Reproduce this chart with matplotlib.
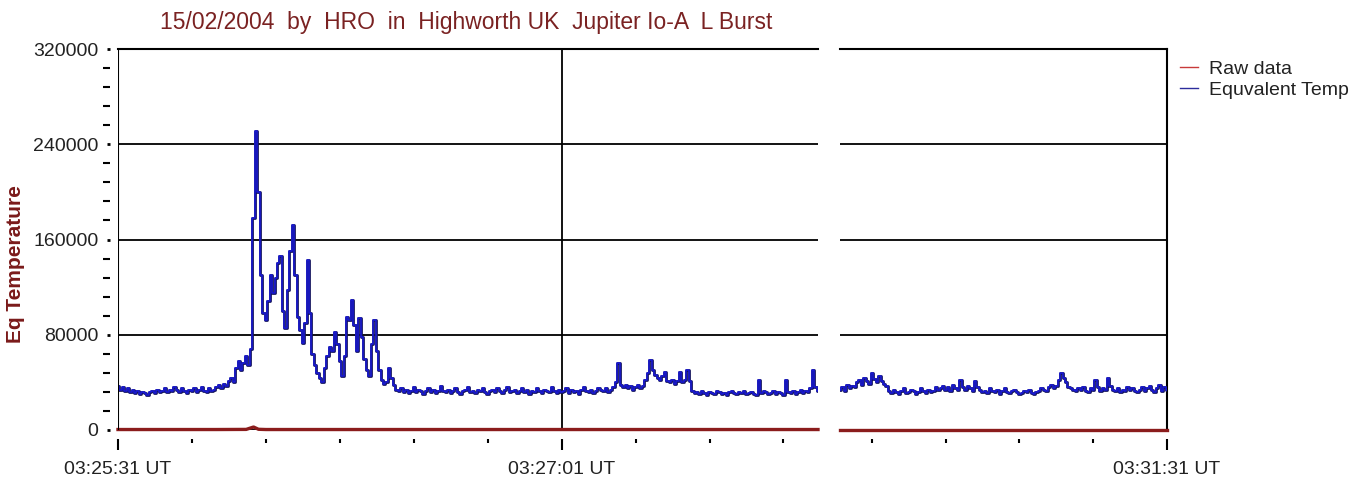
import numpy as np
import matplotlib.pyplot as plt
from matplotlib.lines import Line2D
from matplotlib.ticker import FixedLocator, MultipleLocator

plt.rcParams['font.family'] = ['Liberation Sans', 'DejaVu Sans']

title = "15/02/2004  by  HRO  in  Highworth UK  Jupiter Io-A  L Burst"
ylabel = "Eq Temperature"
series_names = ["Raw data", "Equvalent Temp"]

# time axis: seconds after 03:25:31 UT, data gap between the two panels
start_clock = (3, 25, 31)
step = 0.5
left_start = 0.0
right_start = 293.5
left_range = (0, 142)
right_range = (293.5, 360)

# equivalent temperature, thousands, one value every 0.5 s
temp_left_k = [
    37, 34, 36, 33, 35, 32, 34, 31, 33, 30, 32, 31, 29, 32, 33, 31, 34, 32, 33, 35,
    32, 34, 33, 36, 34, 32, 35, 33, 31, 34, 33, 35, 32, 34, 36, 33, 32, 35, 33, 34,
    36, 38, 35, 39, 37, 41, 44, 40,
    52, 58, 50, 56, 62, 55, 68,
    178, 251, 200, 130, 98, 92, 108, 130, 115, 128, 140, 146, 100, 86, 118,
    150, 172, 130, 95, 84, 73, 90, 143, 98, 64, 55, 48, 44, 40, 52,
    62, 70, 66, 82, 72, 58, 45, 62, 95, 92, 109, 88, 66, 94, 78,
    60, 50, 45, 72, 92, 66, 50, 42, 39, 40, 52, 44, 38, 34,
    33, 35, 32, 34, 31, 33, 36, 32, 34, 33, 30, 33, 35, 32, 34, 31, 33, 37, 33, 32,
    34, 31, 33, 35, 32, 30, 33, 34, 36, 32, 33, 31, 34, 33, 35, 32, 30, 33, 34, 32,
    35, 33, 31, 34, 36, 32, 33, 34, 31, 33, 35, 32, 34, 30, 33, 32, 35, 33, 31, 34,
    33, 32, 36, 33, 31, 34, 32, 33, 35, 31, 34, 32, 33, 30, 34, 36, 33, 32, 34, 31,
    33, 35,
    34, 33, 35, 32, 34, 36, 40, 56, 38, 36, 38, 35, 37, 34, 36, 38, 35, 37, 42, 48,
    59, 50, 46, 44, 42, 45, 49, 41, 40, 42, 39, 41, 49, 40, 42, 50, 41, 33,
    31, 32, 30, 33, 31, 29, 32, 31, 30, 33, 32, 30, 31, 29, 32, 33, 31, 30, 32, 31,
    33, 30, 31, 32, 30, 29, 42, 31, 33, 32, 30, 31, 33, 30, 32, 31, 29, 42, 32, 31,
    33, 30, 32, 34, 31, 33, 32, 35, 50, 36, 33,
]
temp_right_k = [
    34, 36, 33, 38, 35, 37, 36,
    40, 42, 38, 44, 41, 39, 48, 43, 40, 45, 41, 39, 37,
    33, 31, 34, 32, 30, 33, 35, 31, 32, 34, 33, 30, 32, 35, 33, 31, 34, 32, 33, 36, 34,
    35, 37, 34, 36, 33, 38, 35, 34, 42, 36, 34, 37, 35, 33, 41, 36,
    34, 32, 33, 31, 35, 33, 32, 34, 30, 33, 35, 32, 31, 33, 34, 32, 30, 31, 33, 32,
    34, 31, 30, 32, 33, 35, 34, 33, 36, 38, 35, 37,
    42, 48, 44, 40, 36, 35, 34,
    33, 35, 34, 36, 33, 32, 35, 34, 42, 36, 33, 35, 34, 44, 37, 34, 33, 35, 32, 34,
    33, 36, 34, 35, 33, 32, 34, 36, 33, 35, 37, 34, 32, 35, 38, 33, 36, 34,
]

# raw receiver data (thousands) stays near zero on this scale
raw_left_t = [0, 20, 26, 27.5, 28.5, 30, 60, 142]
raw_left_k = [0.4, 0.4, 0.5, 2.5, 0.6, 0.4, 0.4, 0.4]
raw_right_t = [293.5, 360]
raw_right_k = [0.4, 0.4]

y_ticks = [0, 80000, 160000, 240000, 320000]
left_major = [0, 90]
left_minor = [15, 30, 45, 60, 75, 105, 120, 135]
right_major = [360]
right_minor = [300, 315, 330, 345]

temp_left = np.array(temp_left_k) * 1000
temp_right = np.array(temp_right_k) * 1000
t_left = left_start + step * np.arange(len(temp_left))
t_right = right_start + step * np.arange(len(temp_right))


def clock(sec):
    h, m, s = start_clock
    total = h * 3600 + m * 60 + s + int(round(sec))
    return f"{total // 3600:02d}:{total % 3600 // 60:02d}:{total % 60:02d} UT"


blue = "#1a1ad8"
blue_edge = "#14145e"
raw_col = "#8b1c1c"
text_col = "#222222"

fig = plt.figure(figsize=(13.56, 4.82), dpi=100)
ax1 = fig.add_axes([118 / 1356, 52 / 482, 700 / 1356, 381 / 482])
ax2 = fig.add_axes([840 / 1356, 52 / 482, 327 / 1356, 381 / 482], sharey=ax1)

for ax, t, temp, rt, rk, xr in [(ax1, t_left, temp_left, raw_left_t, raw_left_k, left_range),
                                 (ax2, t_right, temp_right, raw_right_t, raw_right_k, right_range)]:
    ax.grid(axis='y', color='black', lw=1.3)
    ax.set_axisbelow(True)
    ax.plot(t, temp, color=blue_edge, lw=2.0, drawstyle='steps-mid', zorder=3)
    ax.plot(t, temp, color=blue, lw=1.1, drawstyle='steps-mid', zorder=3)
    ax.plot(rt, np.array(rk) * 1000, color=raw_col, lw=2.4, zorder=4, clip_on=False)
    ax.set_xlim(*xr)
    ax.spines['top'].set_linewidth(1.5)
    ax.spines['bottom'].set_position(('outward', 6.5))
    ax.spines['bottom'].set_visible(False)
    ax.tick_params(axis='x', which='major', length=8, width=1.5, pad=8,
                   labelsize=14, labelcolor=text_col)
    ax.tick_params(axis='x', which='minor', length=3, width=1.5)

ax1.set_ylim(0, 320000)
ax1.yaxis.set_major_locator(FixedLocator(y_ticks))
ax1.yaxis.set_minor_locator(MultipleLocator(16000))
ax1.set_yticklabels([str(v) for v in y_ticks])
ax1.spines['left'].set_position(('outward', 6))
ax1.spines['left'].set_visible(False)
ax1.spines['right'].set_visible(False)
ax1.axvline(left_range[0], color='black', lw=1.5, zorder=5)
ax1.axvline(90, color='black', lw=1.3, zorder=2)
ax1.tick_params(axis='y', which='major', length=2, width=2, pad=6,
                labelsize=14, labelcolor=text_col)
ax1.tick_params(axis='y', which='minor', length=5, width=1.5)
ax1.xaxis.set_major_locator(FixedLocator(left_major))
ax1.xaxis.set_minor_locator(FixedLocator(left_minor))
ax1.set_xticklabels([clock(v) for v in left_major])

ax2.spines['left'].set_visible(False)
ax2.spines['right'].set_linewidth(1.5)
ax2.tick_params(axis='y', which='both', left=False, labelleft=False)
ax2.xaxis.set_major_locator(FixedLocator(right_major))
ax2.xaxis.set_minor_locator(FixedLocator(right_minor))
ax2.set_xticklabels([clock(v) for v in right_major])

fig.text(466 / 1356, 1 - 22 / 482, title, ha='center', va='center',
         fontsize=16.5, color='#7a2222')
fig.text(16 / 1356, 1 - 264 / 482, ylabel, rotation=90, ha='center', va='center',
         fontsize=15, fontweight='bold', color='#7a1a1a')

handles = [Line2D([], [], color='#c83a3a', lw=1), Line2D([], [], color='#2c2c9c', lw=1)]
fig.legend(handles, series_names, loc='upper left',
           bbox_to_anchor=(1180 / 1356, 1 - 60 / 482), frameon=False, fontsize=14,
           handlelength=0.9, handletextpad=0.6, labelspacing=0.2,
           borderaxespad=0, borderpad=0, labelcolor=text_col)

fig.savefig('out.png', dpi=100)
